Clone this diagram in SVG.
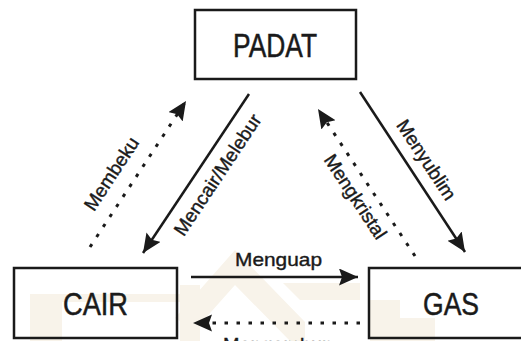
<svg xmlns="http://www.w3.org/2000/svg" width="521" height="341" viewBox="0 0 521 341">
<defs>
<style>
.box{fill:none;stroke:#1a1a1a;stroke-width:2.5}
.big{font-family:"Liberation Sans",Arial,sans-serif;font-size:32px;fill:#1a1a1a;stroke:#1a1a1a;stroke-width:0.5;text-anchor:middle}
.lbl{font-family:"Liberation Sans",Arial,sans-serif;font-size:19px;fill:#1a1a1a;stroke:#1a1a1a;stroke-width:0.4;text-anchor:middle}
.solid{stroke:#1a1a1a;stroke-width:2.5;fill:none}
.dot{stroke:#1a1a1a;stroke-width:3;fill:none;stroke-dasharray:3.5 8.5}
.wm{fill:#f8f3ea}
</style>
<marker id="ah" markerUnits="userSpaceOnUse" markerWidth="22" markerHeight="18" refX="19" refY="8.5" orient="auto" viewBox="0 0 22 18">
<path d="M0,0 L19,8.5 L0,17 L3,8.5 z" fill="#1a1a1a"/>
</marker>
</defs>
<rect width="521" height="341" fill="#ffffff"/>
<g id="watermark">
<rect class="wm" x="30" y="294" width="32" height="47"/>
<rect class="wm" x="30" y="294" width="150" height="8"/>
<rect class="wm" x="180" y="285" width="20" height="56"/>
<polygon class="wm" points="175,318 235,250 305,322 305,341 290,341 235,285 195,330"/>
<polygon class="wm" points="283,283 360,283 360,300 300,300"/>
<rect class="wm" x="370" y="300" width="30" height="41"/>
<rect class="wm" x="400" y="318" width="35" height="23"/>
</g>
<g id="connectors">
<line class="dot" x1="90" y1="247" x2="186" y2="101" marker-end="url(#ah)"/>
<line class="solid" x1="249" y1="94" x2="143" y2="253" marker-end="url(#ah)"/>
<line class="dot" x1="415" y1="256" x2="318" y2="109" marker-end="url(#ah)"/>
<line class="solid" x1="360" y1="92" x2="465" y2="252" marker-end="url(#ah)"/>
<line class="solid" x1="191" y1="277" x2="358" y2="277" marker-end="url(#ah)"/>
<line class="dot" x1="360" y1="323" x2="193" y2="323" marker-end="url(#ah)"/>
<text class="lbl" transform="translate(112,174) rotate(-56.7)" y="6">Membeku</text>
<text class="lbl" transform="translate(218,175) rotate(-56.3)" y="6">Mencair/Melebur</text>
<text class="lbl" transform="translate(355,197) rotate(56.6)" y="6">Mengkristal</text>
<text class="lbl" transform="translate(426,160) rotate(56.7)" y="6">Menyublim</text>
<text class="lbl" x="278.5" y="266" textLength="87" lengthAdjust="spacingAndGlyphs">Menguap</text>
<text class="lbl" x="278" y="351" textLength="110" lengthAdjust="spacingAndGlyphs">Mengembun</text>
</g>
<g id="padat">
<rect class="box" x="195" y="10" width="161" height="69"/>
<text class="big" x="275" y="57" style="font-size:33px" textLength="84" lengthAdjust="spacingAndGlyphs">PADAT</text>
</g>
<g id="cair">
<rect class="box" x="14" y="268" width="163" height="70"/>
<text class="big" x="95.5" y="315" textLength="65" lengthAdjust="spacingAndGlyphs">CAIR</text>
</g>
<g id="gas">
<rect class="box" x="369" y="268" width="170" height="70"/>
<text class="big" x="451" y="315" textLength="56" lengthAdjust="spacingAndGlyphs">GAS</text>
</g>
</svg>
